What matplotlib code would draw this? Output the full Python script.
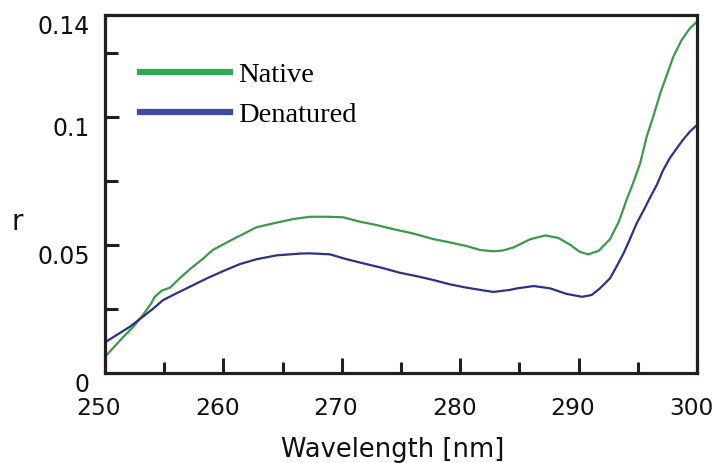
import matplotlib
matplotlib.use('Agg')
import matplotlib.pyplot as plt
import matplotlib.transforms as mtransforms
from matplotlib.lines import Line2D
from matplotlib.ticker import MultipleLocator, FixedLocator

# Данные: длина волны (нм) и r
wl_native = [250.0, 251.3, 252.4, 253.2, 253.9, 254.2, 254.8, 255.5, 256.3, 257.2,
             258.3, 259.1, 260.3, 261.7, 262.8, 264.2, 265.9, 267.3, 268.7, 270.1,
             271.5, 272.9, 274.4, 276.0, 277.7, 279.1, 280.5, 281.7, 282.8, 283.6,
             284.5, 285.9, 287.2, 288.3, 289.3, 290.1, 290.8, 291.7, 292.65, 293.4,
             294.05, 294.6, 295.2, 295.75, 296.3, 296.9, 297.4, 298.0, 298.7, 299.4,
             300.0]
r_native = [0.0063, 0.0129, 0.0181, 0.0227, 0.0272, 0.0298, 0.0322, 0.0334, 0.0370, 0.0407,
            0.0448, 0.0481, 0.0511, 0.0544, 0.0570, 0.0585, 0.0602, 0.0611, 0.0611, 0.0609,
            0.0592, 0.0579, 0.0562, 0.0546, 0.0524, 0.0511, 0.0497, 0.0481, 0.0476, 0.0479,
            0.0491, 0.0523, 0.0538, 0.0528, 0.0501, 0.0474, 0.0464, 0.0478, 0.0523, 0.0592,
            0.0677, 0.0742, 0.0820, 0.0924, 0.1002, 0.1094, 0.1159, 0.1237, 0.1302, 0.1348,
            0.1374]

wl_denat = [250.0, 251.0, 252.1, 253.2, 254.1, 254.9, 256.05, 257.2, 258.6, 260.0,
            261.4, 262.8, 264.5, 266.5, 267.3, 269.0, 270.4, 271.8, 273.5, 274.9,
            276.3, 277.7, 279.1, 280.5, 281.7, 282.8, 284.2, 284.8, 286.2, 287.6,
            289.0, 290.3, 291.1, 291.8, 292.65, 293.2, 293.8, 294.3, 294.9, 295.5,
            296.0, 296.6, 297.15, 297.7, 298.3, 298.8, 299.4, 300.0]
r_denat = [0.0120, 0.0149, 0.0181, 0.0220, 0.0253, 0.0285, 0.0312, 0.0338, 0.0370, 0.0399,
           0.0426, 0.0445, 0.0460, 0.0467, 0.0468, 0.0464, 0.0445, 0.0429, 0.0410, 0.0392,
           0.0379, 0.0364, 0.0347, 0.0334, 0.0325, 0.0317, 0.0325, 0.0331, 0.0340, 0.0331,
           0.0309, 0.0298, 0.0305, 0.0331, 0.0370, 0.0416, 0.0468, 0.0520, 0.0585, 0.0637,
           0.0683, 0.0735, 0.0794, 0.0840, 0.0879, 0.0911, 0.0944, 0.0970]

x_ticks = [250, 260, 270, 280, 290, 300]
y_ticks = [0, 0.05, 0.1, 0.14]
y_labels = ['0', '0.05', '0.1', '0.14']
labels = ['Native', 'Denatured']

dark = '#231f20'
txt = '#111111'
green = '#3a9a48'
blue = '#2d3188'

fig = plt.figure(figsize=(7.18, 4.63), dpi=100)
ax = fig.add_axes([105/718, 1 - 373/463, 592/718, 358/463])

ax.plot(wl_native, r_native, color=green, lw=1.6)
ax.plot(wl_denat, r_denat, color=blue, lw=1.6)

ax.set_xlim(250, 300)
ax.set_ylim(0, 0.14)

# Оси и деления
for s in ax.spines.values():
    s.set_linewidth(2.3)
    s.set_color(dark)

ax.set_xticks(x_ticks)
ax.xaxis.set_minor_locator(MultipleLocator(5))
ax.set_yticks(y_ticks)
ax.set_yticklabels(y_labels)
ax.yaxis.set_minor_locator(FixedLocator([0.025, 0.075, 0.125]))

ax.tick_params(axis='x', which='major', direction='in', length=11, width=2.2,
               color=dark, pad=17, labelsize=16.8, labelcolor=txt)
ax.tick_params(axis='x', which='minor', direction='in', length=8, width=2.2, color=dark)
ax.tick_params(axis='y', which='major', direction='in', length=10, width=2.2,
               color=dark, pad=11, labelsize=17, labelcolor=txt)
ax.tick_params(axis='y', which='minor', direction='in', length=9, width=2.2, color=dark)
for t in ax.get_yticklabels():
    t.set_verticalalignment('top')

# подписи по x в оригинале чуть сдвинуты влево
shift = mtransforms.ScaledTranslation(-6/100, 0, fig.dpi_scale_trans)
for t in ax.get_xticklabels():
    t.set_transform(t.get_transform() + shift)

fig.text(393/718, 1 - 457/463, 'Wavelength [nm]', ha='center', va='baseline',
         fontsize=18.5, color=txt)
fig.text(17.5/718, 1 - 230/463, 'r', ha='center', va='baseline',
         fontsize=20, color=txt)

# Легенда
handles = [Line2D([], [], color='#2eaa55', lw=4.5),
           Line2D([], [], color='#3d4aa0', lw=4.5)]
ax.legend(handles, labels, loc='upper left', bbox_to_anchor=(35/592, 1 - 47/358),
          frameon=False, borderpad=0, borderaxespad=0, handlelength=3.15,
          handletextpad=0.29, labelspacing=0.48,
          prop={'family': ['Liberation Serif', 'DejaVu Serif'], 'size': 20.5})

fig.savefig('out.png', dpi=100)
